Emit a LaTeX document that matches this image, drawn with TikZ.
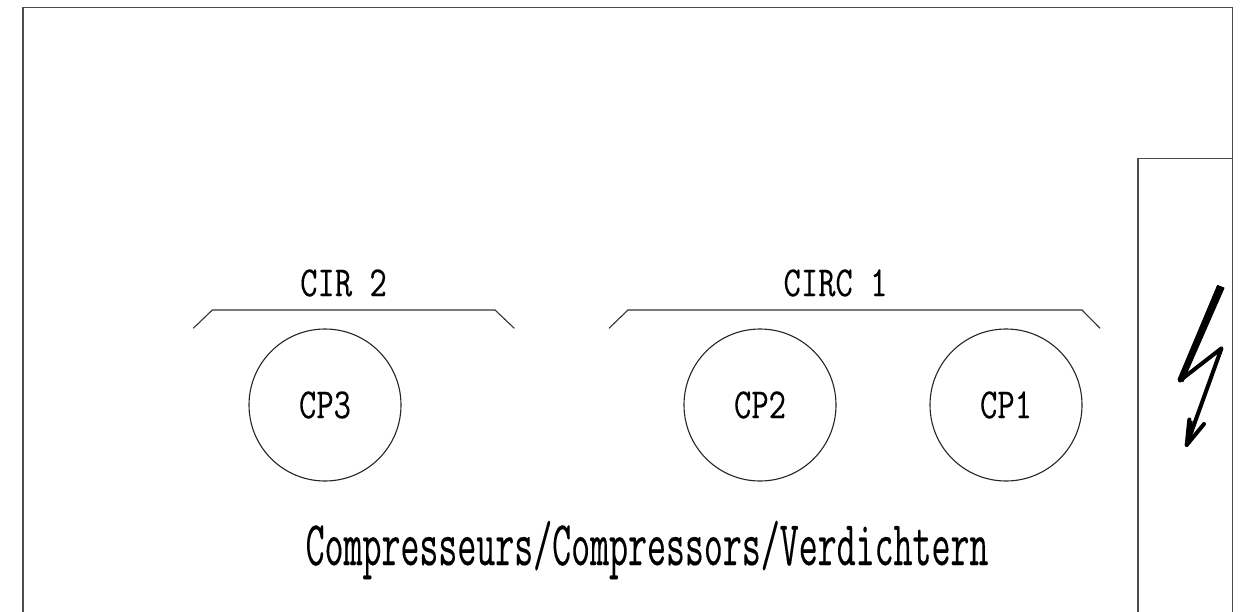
\documentclass[tikz,border=0pt]{standalone}
\usepackage{fontspec}
\setmainfont[FakeBold=0.2]{Latin Modern Mono}
\usepackage{graphicx}
\newcommand{\smalllabel}[1]{\scalebox{0.82}[1.05]{\fontsize{41pt}{41pt}\selectfont #1}}
\newcommand{\biglabel}[1]{\scalebox{0.594}[1.03]{\fontsize{62pt}{62pt}\selectfont #1}}
\tikzset{
  thinline/.style={draw=black!80,line width=1.1pt},
  frameline/.style={draw=black!70,line width=1.3pt},
  compressor/.style={circle,draw=black!85,line width=1.1pt,minimum size=152pt,inner sep=0pt},
  bolt/.style={draw=black,line width=4pt,line cap=round,line join=round},
}
\begin{document}
\begin{tikzpicture}[x=1pt,y=-1pt]
\useasboundingbox (0,0) rectangle (1241,612);
\fill[white] (0,0) rectangle (1241,612);
\draw[frameline] (23,612) -- (23,7.5) -- (1232.5,7.5) -- (1232.5,612);
\draw[frameline] (1138,612) -- (1138,158.5) -- (1232.5,158.5);
\node[compressor] (cp3) at (325,405) {\smalllabel{CP3}};
\node[compressor] (cp2) at (760,405) {\smalllabel{CP2}};
\node[compressor] (cp1) at (1006,405) {\smalllabel{CP1}};
\draw[thinline] (193.3,328.3) -- (212.3,310) -- (495,310) -- (514.3,328.3);
\draw[thinline] (609,328.3) -- (628,310) -- (1082,310) -- (1100,328.3);
\node (cir2) at (343.5,283) {\smalllabel{CIR 2}};
\node (circ1) at (835.5,283) {\smalllabel{CIRC 1}};
\node (title) at (647,550) {\biglabel{Compresseurs/Compressors/Verdichtern}};
\fill[black,draw=black,line width=1pt,line join=round] (1217.5,285.5) -- (1224,288) -- (1183,381.5) -- (1178,379.5) -- cycle;
\draw[bolt] (1180,380.5) -- (1221.5,348.3) -- (1186.7,445);
\draw[bolt] (1189.3,419.5) -- (1186.7,445) -- (1204,424);
\fill[black] (1187.5,420) -- (1192.5,421) -- (1193,430) -- (1186,446) -- cycle;
\end{tikzpicture}
\end{document}
